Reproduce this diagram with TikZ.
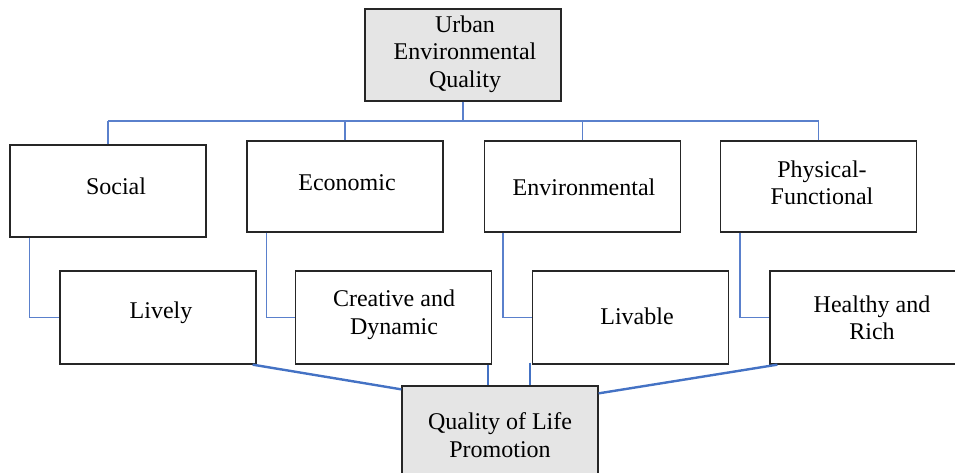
\documentclass[tikz,border=0pt]{standalone}
\usepackage{fontspec}
\setmainfont{Liberation Serif}
\definecolor{linkblue}{HTML}{4472C4}
\definecolor{busblue}{HTML}{5A80CC}
\begin{document}
\begin{tikzpicture}[x=1pt,y=-1pt,
  box/.style={draw=black!85, line width=1.3pt, fill=white, minimum width=196pt, minimum height=92pt, inner sep=0pt},
  graybox/.style={box, fill=black!10},
  txt/.style={align=center, inner sep=0pt, font=\fontsize{24}{27.5}\selectfont},
  busline/.style={draw=busblue, line width=1.7pt},
  sideline/.style={draw=busblue, line width=1.5pt},
  mainline/.style={draw=linkblue, line width=2.4pt}]
\useasboundingbox (0,0) rectangle (955,472);
% boxes
\node[graybox] (top) at (463,55) {};
\node[box, minimum height=92pt] (social) at (108,191) {};
\node[box, minimum height=91pt] (econ) at (345,186.5) {};
\node[box, minimum height=91pt] (env) at (582.5,186.5) {};
\node[box, minimum height=91pt] (phys) at (818.5,186.5) {};
\node[box, minimum height=93pt] (lively) at (158,317.5) {};
\node[box, minimum height=93pt] (creative) at (393.5,317.5) {};
\node[box, minimum height=93pt] (livable) at (630.5,317.5) {};
\node[box, minimum height=93pt] (healthy) at (868,317.5) {};
\node[graybox] (qol) at (500,432) {};
% texts
\node[txt] (top-t) at (465,54) {Urban\\Environmental\\Quality};
\node[txt] (social-t) at (116,186) {Social};
\node[txt] (econ-t) at (347,183) {Economic};
\node[txt] (env-t) at (584,187) {Environmental};
\node[txt] (phys-t) at (822,183) {Physical-\\Functional};
\node[txt] (lively-t) at (161,313) {Lively};
\node[txt] (creative-t) at (394,315) {Creative and\\Dynamic};
\node[txt] (livable-t) at (637,316) {Livable};
\node[txt] (healthy-t) at (872,318) {Healthy and\\Rich};
\node[txt] (qol-t) at (500,435) {Quality of Life\\Promotion};
\coordinate (busL) at (108,121);
\coordinate (busR) at (818.5,121);
% bus
\draw[busline] (busL) -- (busR);
\draw[busline] (top.south) -- (top.south |- busL);
\draw[busline] (social.north) -- (social.north |- busL);
\draw[busline] (econ.north) -- (econ.north |- busL);
\draw[busline] (env.north) -- (env.north |- busL);
\draw[busline] (phys.north) -- (phys.north |- busL);
% side connectors
\draw[sideline] ([xshift=20pt]social.south west) |- (lively.west);
\draw[sideline] ([xshift=20pt]econ.south west) |- (creative.west);
\draw[sideline] ([xshift=19pt]env.south west) |- (livable.west);
\draw[sideline] ([xshift=20pt]phys.south west) |- (healthy.west);
% converging lines
\draw[mainline] ([xshift=-4pt]lively.south east) -- ([yshift=-4pt]qol.north west);
\draw[mainline] ([xshift=-4pt]creative.south east) -- ([xshift=-4pt]creative.south east |- qol.north);
\draw[mainline] ([xshift=-2pt,yshift=2pt]livable.south west) -- ([xshift=-2pt]livable.south west |- qol.north);
\draw[mainline] ([xshift=8pt]healthy.south west) -- ([yshift=-8pt]qol.north east);
\end{tikzpicture}
\end{document}
